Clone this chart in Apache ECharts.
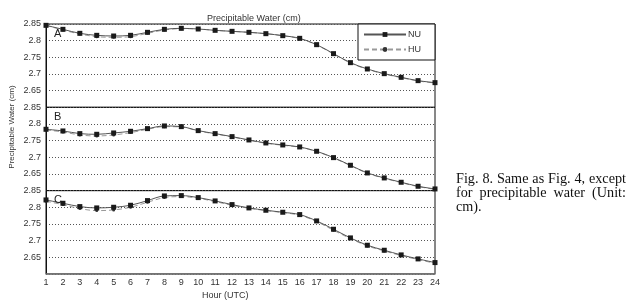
<!DOCTYPE html>
<html>
<head>
<meta charset="utf-8">
<script src="https://cdn.jsdelivr.net/npm/echarts@6/dist/echarts.min.js"></script>
<style>
  html, body { margin: 0; padding: 0; background: #fff; }
  #chart1 { width: 627px; height: 305px; }
</style>
</head>
<body>
<div id="chart1"></div>
<script>
const hours = [1, 2, 3, 4, 5, 6, 7, 8, 9, 10, 11, 12, 13, 14, 15, 16, 17, 18, 19, 20, 21, 22, 23, 24];
const yTicks = [2.85, 2.8, 2.75, 2.7, 2.65];
const panels = ['A', 'B', 'C'];

const nuA = [2.846, 2.834, 2.822, 2.816, 2.814, 2.816, 2.825, 2.834, 2.837, 2.835, 2.831, 2.828, 2.825, 2.821, 2.815, 2.807, 2.788, 2.761, 2.734, 2.715, 2.701, 2.690, 2.680, 2.674];
const huA = [2.846, 2.832, 2.820, 2.812, 2.810, 2.812, 2.822, 2.832, 2.836, 2.835, 2.831, 2.828, 2.825, 2.821, 2.815, 2.806, 2.787, 2.760, 2.733, 2.714, 2.700, 2.689, 2.679, 2.673];
const nuB = [2.784, 2.779, 2.771, 2.769, 2.773, 2.778, 2.786, 2.794, 2.792, 2.780, 2.771, 2.762, 2.752, 2.743, 2.737, 2.731, 2.718, 2.699, 2.676, 2.653, 2.638, 2.625, 2.613, 2.605];
const huB = [2.782, 2.776, 2.767, 2.764, 2.767, 2.774, 2.784, 2.792, 2.791, 2.779, 2.770, 2.761, 2.751, 2.742, 2.736, 2.730, 2.717, 2.698, 2.675, 2.652, 2.637, 2.624, 2.612, 2.604];
const nuC = [2.822, 2.812, 2.802, 2.798, 2.800, 2.806, 2.820, 2.834, 2.835, 2.829, 2.819, 2.808, 2.798, 2.791, 2.785, 2.778, 2.759, 2.734, 2.708, 2.686, 2.671, 2.657, 2.645, 2.634];
const huC = [2.818, 2.808, 2.796, 2.790, 2.792, 2.800, 2.815, 2.829, 2.832, 2.827, 2.817, 2.806, 2.797, 2.790, 2.784, 2.776, 2.757, 2.731, 2.706, 2.684, 2.669, 2.655, 2.643, 2.632];

const caption = ['Fig. 8. Same as Fig. 4, except', 'for precipitable water (Unit:', 'cm).'];

const nuData = [nuA, nuB, nuC];
const huData = [huA, huB, huC];

const chart = echarts.init(document.getElementById('chart1'));

const gridTop = 24, gridH = 83.3, gridLeft = 46, gridRight = 192;
const axisFont = { fontFamily: 'Liberation Sans, Arial', fontSize: 9, color: '#333' };

const grids = [], xAxes = [], yAxes = [], series = [];
panels.forEach((p, i) => {
    grids.push({ left: gridLeft, right: gridRight, top: gridTop + i * gridH, height: gridH,
        show: true, borderColor: '#111', borderWidth: 1 });
    const last = i === panels.length - 1;
    xAxes.push({
        type: 'value', gridIndex: i, min: 1, max: 24, interval: 1,
        axisLine: { show: last, lineStyle: { color: '#777', width: 1.5 } },
        axisTick: { show: false },
        axisLabel: { show: last, margin: 4, ...axisFont },
        splitLine: { show: false }
    });
    yAxes.push({
        type: 'value', gridIndex: i, min: 2.6, max: 2.85, interval: 0.05,
        axisLine: { show: true, lineStyle: { color: '#111' } },
        axisTick: { show: false },
        axisLabel: { showMinLabel: false, margin: 5, ...axisFont,
            formatter: v => {
                const t = yTicks.find(t => Math.abs(t - v) < 1e-6);
                return t !== undefined ? String(t) : '';
            } },
        splitLine: { show: true, lineStyle: { color: '#555', type: [1, 2], width: 1 } }
    });
    series.push({
        name: 'HU', type: 'line', xAxisIndex: i, yAxisIndex: i, smooth: 0.35,
        data: hours.map((h, k) => [h, huData[i][k]]),
        symbol: 'circle', symbolSize: 3,
        itemStyle: { color: '#333' },
        lineStyle: { color: '#999', width: 1, type: [5, 3] },
        z: 2
    });
    series.push({
        name: 'NU', type: 'line', xAxisIndex: i, yAxisIndex: i, smooth: 0.35,
        data: hours.map((h, k) => [h, nuData[i][k]]),
        symbol: 'rect', symbolSize: 5,
        itemStyle: { color: '#1a1a1a' },
        lineStyle: { color: '#555', width: 1 },
        z: 3
    });
});

// panel letters
const graphics = panels.map((p, i) => ({
    type: 'text', left: 54, top: gridTop + i * gridH + 4,
    style: { text: p, font: '11px "Liberation Sans", Arial', fill: '#222' }, z: 10
}));

graphics.push({
    type: 'text', left: 202, top: 291,
    style: { text: 'Hour (UTC)', font: '9px "Liberation Sans", Arial', fill: '#333' }
});

// y axis title, rotated
graphics.push({
    type: 'text', x: 12, y: 127, rotation: Math.PI / 2,
    style: { text: 'Precipitable Water (cm)', font: '8px "Liberation Sans", Arial', fill: '#333',
        align: 'center', verticalAlign: 'middle' }
});

// justified caption; font size chosen so the first line fills the column
const capLeft = 456, capWidth = 170, capTop = 179, capLead = 14;
const ctx = document.createElement('canvas').getContext('2d');
let capSize = 13;
ctx.font = capSize + 'px "Liberation Serif"';
capSize = Math.min(15, capSize * (capWidth - 2) / ctx.measureText(caption[0]).width);
const capFont = capSize.toFixed(2) + 'px "Liberation Serif", "Times New Roman", serif';
ctx.font = capFont;
caption.forEach((line, li) => {
    const y = capTop + li * capLead;
    const words = line.split(' ');
    if (li === caption.length - 1 || words.length < 2) {
        graphics.push({ type: 'text', x: capLeft, y: y,
            style: { text: line, font: capFont, fill: '#111', verticalAlign: 'middle' } });
        return;
    }
    const widths = words.map(w => ctx.measureText(w).width);
    const sum = widths.reduce((a, b) => a + b, 0);
    const gap = (capWidth - sum) / (words.length - 1);
    let x = capLeft;
    words.forEach((w, k) => {
        graphics.push({ type: 'text', x: x, y: y,
            style: { text: w, font: capFont, fill: '#111', verticalAlign: 'middle' } });
        x += widths[k] + gap;
    });
});

const option = {
    animation: false,
    backgroundColor: '#fff',
    title: {
        text: 'Precipitable Water (cm)', left: 202, top: 9,
        textStyle: { fontFamily: 'Liberation Sans, Arial', fontSize: 9, fontWeight: 'normal', color: '#333' }
    },
    legend: {
        data: ['NU', 'HU'], orient: 'vertical', left: 358, top: 24,
        itemWidth: 42, itemHeight: 6, itemGap: 6,
        padding: [6, 14, 6, 5],
        borderColor: '#111', borderWidth: 1, backgroundColor: '#fff',
        textStyle: { fontFamily: 'Liberation Sans, Arial', fontSize: 9, color: '#333', padding: [0, 0, 0, -3] }
    },
    grid: grids,
    xAxis: xAxes,
    yAxis: yAxes,
    series: series,
    graphic: graphics
};

chart.setOption(option);
window.addEventListener('resize', function () { chart.resize(); });
</script>
</body>
</html>
